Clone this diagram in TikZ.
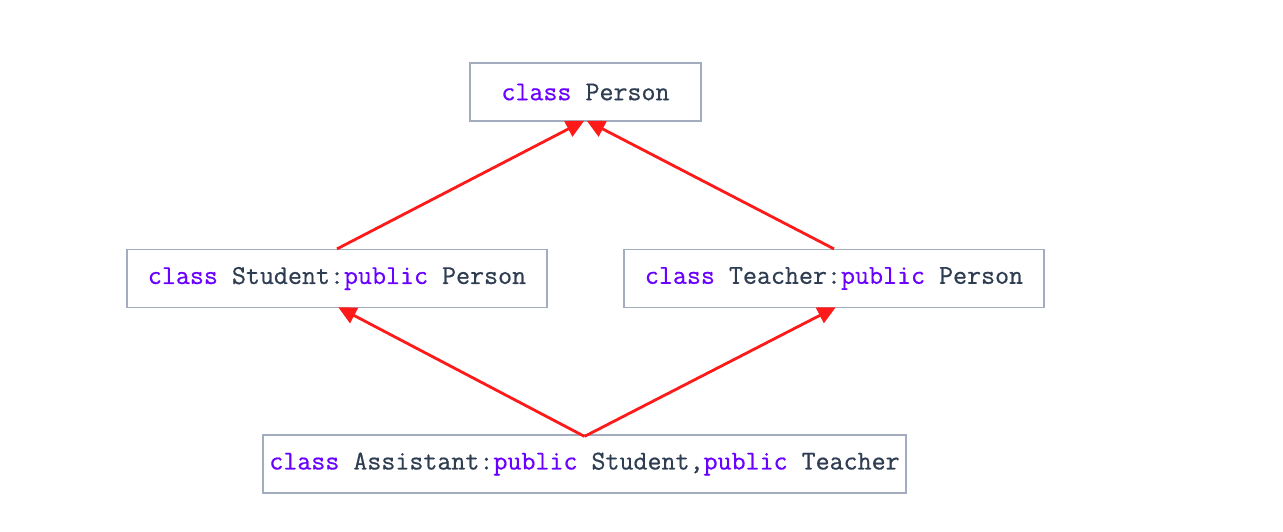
\documentclass[tikz,border=0pt]{standalone}
\usepackage{fontspec}
\newfontfamily\codefont[FakeBold=0.6]{Latin Modern Mono}
\usetikzlibrary{arrows.meta,calc}
\definecolor{boxline}{HTML}{A3ADBF}
\definecolor{kw}{HTML}{6A00FF}
\definecolor{txt}{HTML}{2E3D52}
\definecolor{arrowred}{HTML}{FF1A1A}
\newcommand{\kwd}[1]{\textcolor{kw}{#1}}
\tikzset{
  classbox/.style={draw=boxline, line width=1.2pt, fill=white, inner sep=0pt,
    minimum height=58pt, font=\codefont\fontsize{27.2}{27.2}\selectfont, text=txt},
  inherit/.style={draw=arrowred, line width=2.8pt, shorten >=-2pt, -{Triangle[length=18pt,width=17pt]}}
}
\begin{document}
\begin{tikzpicture}[x=1pt,y=-1pt]
\useasboundingbox[fill=white] (0,0) rectangle (1283,531);
\node[classbox, minimum width=231pt] (person) at (585.5,92) {\kwd{class} Person};
\node[classbox, minimum width=420pt] (student) at (337,278.5) {\kwd{class} Student:\kwd{public} Person};
\node[classbox, minimum width=420pt] (teacher) at (834,278.5) {\kwd{class} Teacher:\kwd{public} Person};
\node[classbox, minimum width=643pt] (assistant) at (584.5,464) {\kwd{class} Assistant:\kwd{public} Student,\kwd{public} Teacher};
\coordinate (pl) at ($(person.south)+(-3,0)$);
\coordinate (pr) at ($(person.south)+(3,0)$);
\coordinate (sb) at ($(student.south)+(3,0)$);
\coordinate (at) at ($(assistant.north)+(0,2)$);
\draw[inherit] (student.north) -- (pl);
\draw[inherit] (teacher.north) -- (pr);
\draw[inherit] (at) -- (sb);
\draw[inherit] (at) -- (teacher.south);
\end{tikzpicture}
\end{document}
